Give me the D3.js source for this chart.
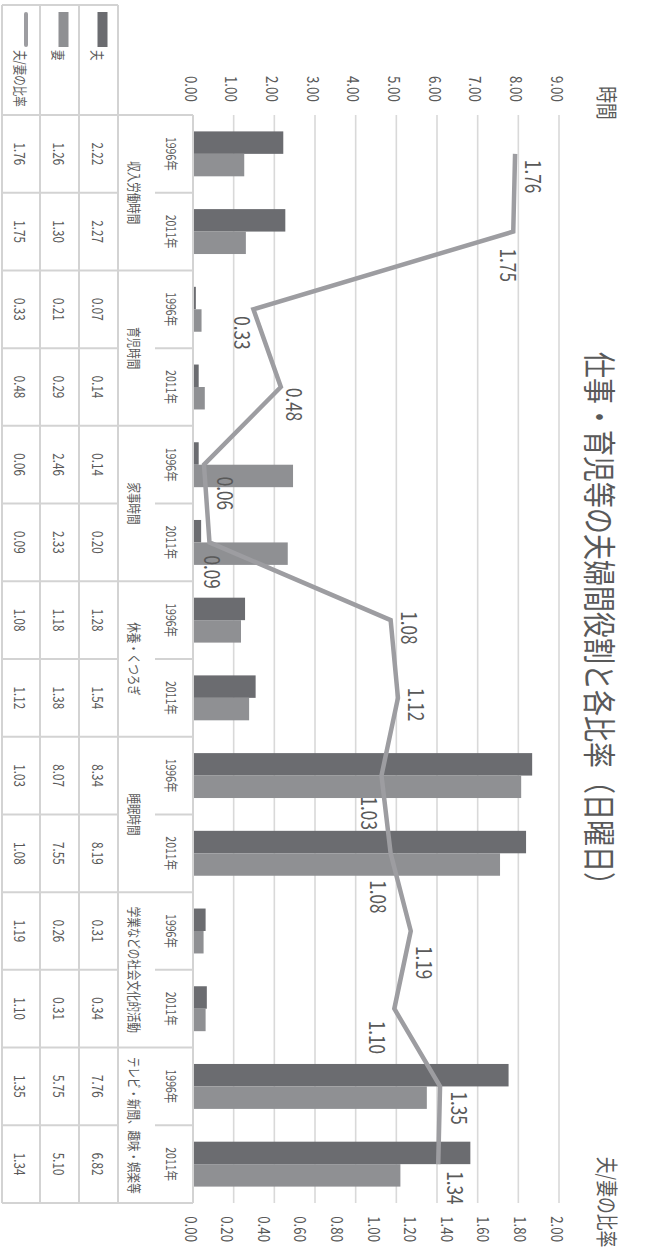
<!DOCTYPE html>
<html>
<head>
<meta charset="utf-8">
<script src="https://cdn.jsdelivr.net/npm/d3@7"></script>
<style>
body { margin: 0; background: #fff; }
text { font-family: "Noto Sans CJK JP", "Noto Sans", sans-serif; fill: #595959; }
</style>
</head>
<body>
<svg></svg>
<script>
// data
var groups = ["収入労働時間", "育児時間", "家事時間", "休養・くつろぎ", "睡眠時間", "学業などの社会文化的活動", "テレビ・新聞、趣味・娯楽等"];
var years = ["1996年", "2011年"];
var husband = [2.22, 2.27, 0.07, 0.14, 0.14, 0.20, 1.28, 1.54, 8.34, 8.19, 0.31, 0.34, 7.76, 6.82];
var wife = [1.26, 1.30, 0.21, 0.29, 2.46, 2.33, 1.18, 1.38, 8.07, 7.55, 0.26, 0.31, 5.75, 5.10];
var ratio = [1.76, 1.75, 0.33, 0.48, 0.06, 0.09, 1.08, 1.12, 1.03, 1.08, 1.19, 1.10, 1.35, 1.34];
var seriesNames = ["夫", "妻", "夫/妻の比率"];
var hourTicks = [0, 1, 2, 3, 4, 5, 6, 7, 8, 9];
var ratioTicks = [0, 0.2, 0.4, 0.6, 0.8, 1.0, 1.2, 1.4, 1.6, 1.8, 2.0];
var title = "仕事・育児等の夫婦間役割と各比率（日曜日）";

// layout only: where each ratio label sits relative to its point
var labelDx = [6, 17, 7, 1, 12, 13, -9, -10, 21, 27, 15, 12, 5, 7];
var labelDy = [-19, 4, 10, -15, -22, -4, -20, -20, 11, 11, -15, 16, -20, -18];

var colHusband = "#6b6c70";
var colWife = "#8f9093";
var colRatio = "#9d9da1";
var gridCol = "#d9d9d9";
var sq = 0.78; // text is drawn narrow, as in the picture

// the chart is drawn 1255 x 650 and turned a quarter clockwise
var svg = d3.select("svg").attr("width", 650).attr("height", 1255);
var g = svg.append("g").attr("transform", "translate(650,0) rotate(90)");

var plotL = 115, plotR = 1203, plotT = 91, plotB = 457;
var cats = d3.range(husband.length);

var x = d3.scaleBand().domain(cats).range([plotL, plotR]);
var sub = d3.scaleBand().domain([0, 1]).range([0, x.bandwidth()]).paddingOuter(0.73);
var yH = d3.scaleLinear().domain([0, 9]).range([plotB, plotT]);
var yR = d3.scaleLinear().domain([0, 2]).range([plotB, plotT]);
var fmt = d3.format(".2f");

function txt(parent, px, py, s, size, anchor, k) {
  return parent.append("text")
    .attr("transform", "translate(" + px + "," + py + ") scale(" + (k || sq) + ",1)")
    .attr("text-anchor", anchor)
    .attr("dominant-baseline", "central")
    .style("font-size", size + "px")
    .text(s);
}

// gridlines
g.selectAll("line.grid")
  .data(hourTicks.filter(function(d) { return d > 0; }))
  .enter()
  .append("line")
  .attr("class", "grid")
  .attr("x1", plotL).attr("x2", plotR)
  .attr("y1", function(d) { return yH(d); })
  .attr("y2", function(d) { return yH(d); })
  .attr("stroke", gridCol)
  .attr("stroke-width", 1.6);

// bars
var bars = g.selectAll("g.cat")
  .data(cats)
  .enter()
  .append("g")
  .attr("transform", function(i) { return "translate(" + x(i) + ",0)"; });

bars.append("rect")
  .attr("x", sub(0)).attr("width", sub.bandwidth())
  .attr("y", function(i) { return yH(husband[i]); })
  .attr("height", function(i) { return yH(0) - yH(husband[i]); })
  .attr("fill", colHusband);

bars.append("rect")
  .attr("x", sub(1)).attr("width", sub.bandwidth())
  .attr("y", function(i) { return yH(wife[i]); })
  .attr("height", function(i) { return yH(0) - yH(wife[i]); })
  .attr("fill", colWife);

// ratio line
var line = d3.line()
  .x(function(i) { return x(i) + x.bandwidth() / 2; })
  .y(function(i) { return yR(ratio[i]); });

g.append("path")
  .datum(cats)
  .attr("d", line)
  .attr("fill", "none")
  .attr("stroke", colRatio)
  .attr("stroke-width", 4.5)
  .attr("stroke-linejoin", "miter");

cats.forEach(function(i) {
  txt(g, x(i) + x.bandwidth() / 2 + labelDx[i], yR(ratio[i]) + labelDy[i], fmt(ratio[i]), 22, "start");
});

// axes
var leftAxis = g.append("g")
  .attr("transform", "translate(" + plotL + ",0)")
  .call(d3.axisLeft(yH).tickValues(hourTicks).tickFormat(fmt).tickSize(0).tickPadding(17));
var rightAxis = g.append("g")
  .attr("transform", "translate(" + plotR + ",0)")
  .call(d3.axisRight(yR).tickValues(ratioTicks).tickFormat(fmt).tickSize(0).tickPadding(17));
[leftAxis, rightAxis].forEach(function(a) {
  a.select(".domain").remove();
  a.selectAll("text")
    .attr("dy", null)
    .attr("dominant-baseline", "central")
    .attr("transform", "scale(" + sq + ",1)")
    .style("font-size", "17px")
    .style("font-family", null)
    .attr("fill", null);
  a.attr("font-family", null).attr("font-size", null);
});

// titles
txt(g, 625, 49, title, 32.5, "middle", 0.8);
txt(g, 103, 42, "時間", 21.5, "middle");
txt(g, 1202, 42, seriesNames[2], 21.5, "middle");

// data table
var tTop = 457, yearB = 495, grpB = 532, rowB = [571, 610, 648], legL = 5;
var rowTop = [grpB, rowB[0], rowB[1]];
var rowMid = rowTop.map(function(t, k) { return (t + rowB[k]) / 2; });
var border = g.append("g").attr("stroke", "#d3d3d3").attr("stroke-width", 2);

function seg(x1, y1, x2, y2) {
  border.append("line").attr("x1", x1).attr("y1", y1).attr("x2", x2).attr("y2", y2);
}
seg(plotL, tTop, plotR, tTop);
[grpB].concat(rowB).forEach(function(yy) { seg(legL, yy, plotR, yy); });
seg(legL, grpB, legL, rowB[2]);
cats.concat([cats.length]).forEach(function(i) {
  var xx = i < cats.length ? x(i) : plotR;
  if (i % 2 === 0) {
    seg(xx, tTop, xx, rowB[2]);
  } else {
    seg(xx, tTop, xx, yearB);
    seg(xx, grpB, xx, rowB[2]);
  }
});

cats.forEach(function(i) {
  var cx = x(i) + x.bandwidth() / 2;
  txt(g, cx, (tTop + yearB) / 2 + 2, years[i % 2], 13.5, "middle");
  txt(g, cx, rowMid[0], fmt(husband[i]), 15, "middle");
  txt(g, cx, rowMid[1], fmt(wife[i]), 15, "middle");
  txt(g, cx, rowMid[2], fmt(ratio[i]), 15, "middle");
});
groups.forEach(function(name, k) {
  txt(g, x(2 * k) + x.bandwidth(), (yearB + grpB) / 2 + 1, name, 13.5, "middle");
});

// legend keys inside the table
g.append("rect").attr("x", 12).attr("width", 35).attr("y", rowMid[0] - 9).attr("height", 10).attr("fill", colHusband);
g.append("rect").attr("x", 12).attr("width", 35).attr("y", rowMid[1] - 9).attr("height", 10).attr("fill", colWife);
g.append("line").attr("x1", 14).attr("x2", 45).attr("y1", rowMid[2] - 5).attr("y2", rowMid[2] - 5)
  .attr("stroke", colRatio).attr("stroke-width", 4).attr("stroke-linecap", "round");
seriesNames.forEach(function(name, k) {
  txt(g, 50, rowMid[k], name, 13.5, "start");
});
</script>
</body>
</html>
